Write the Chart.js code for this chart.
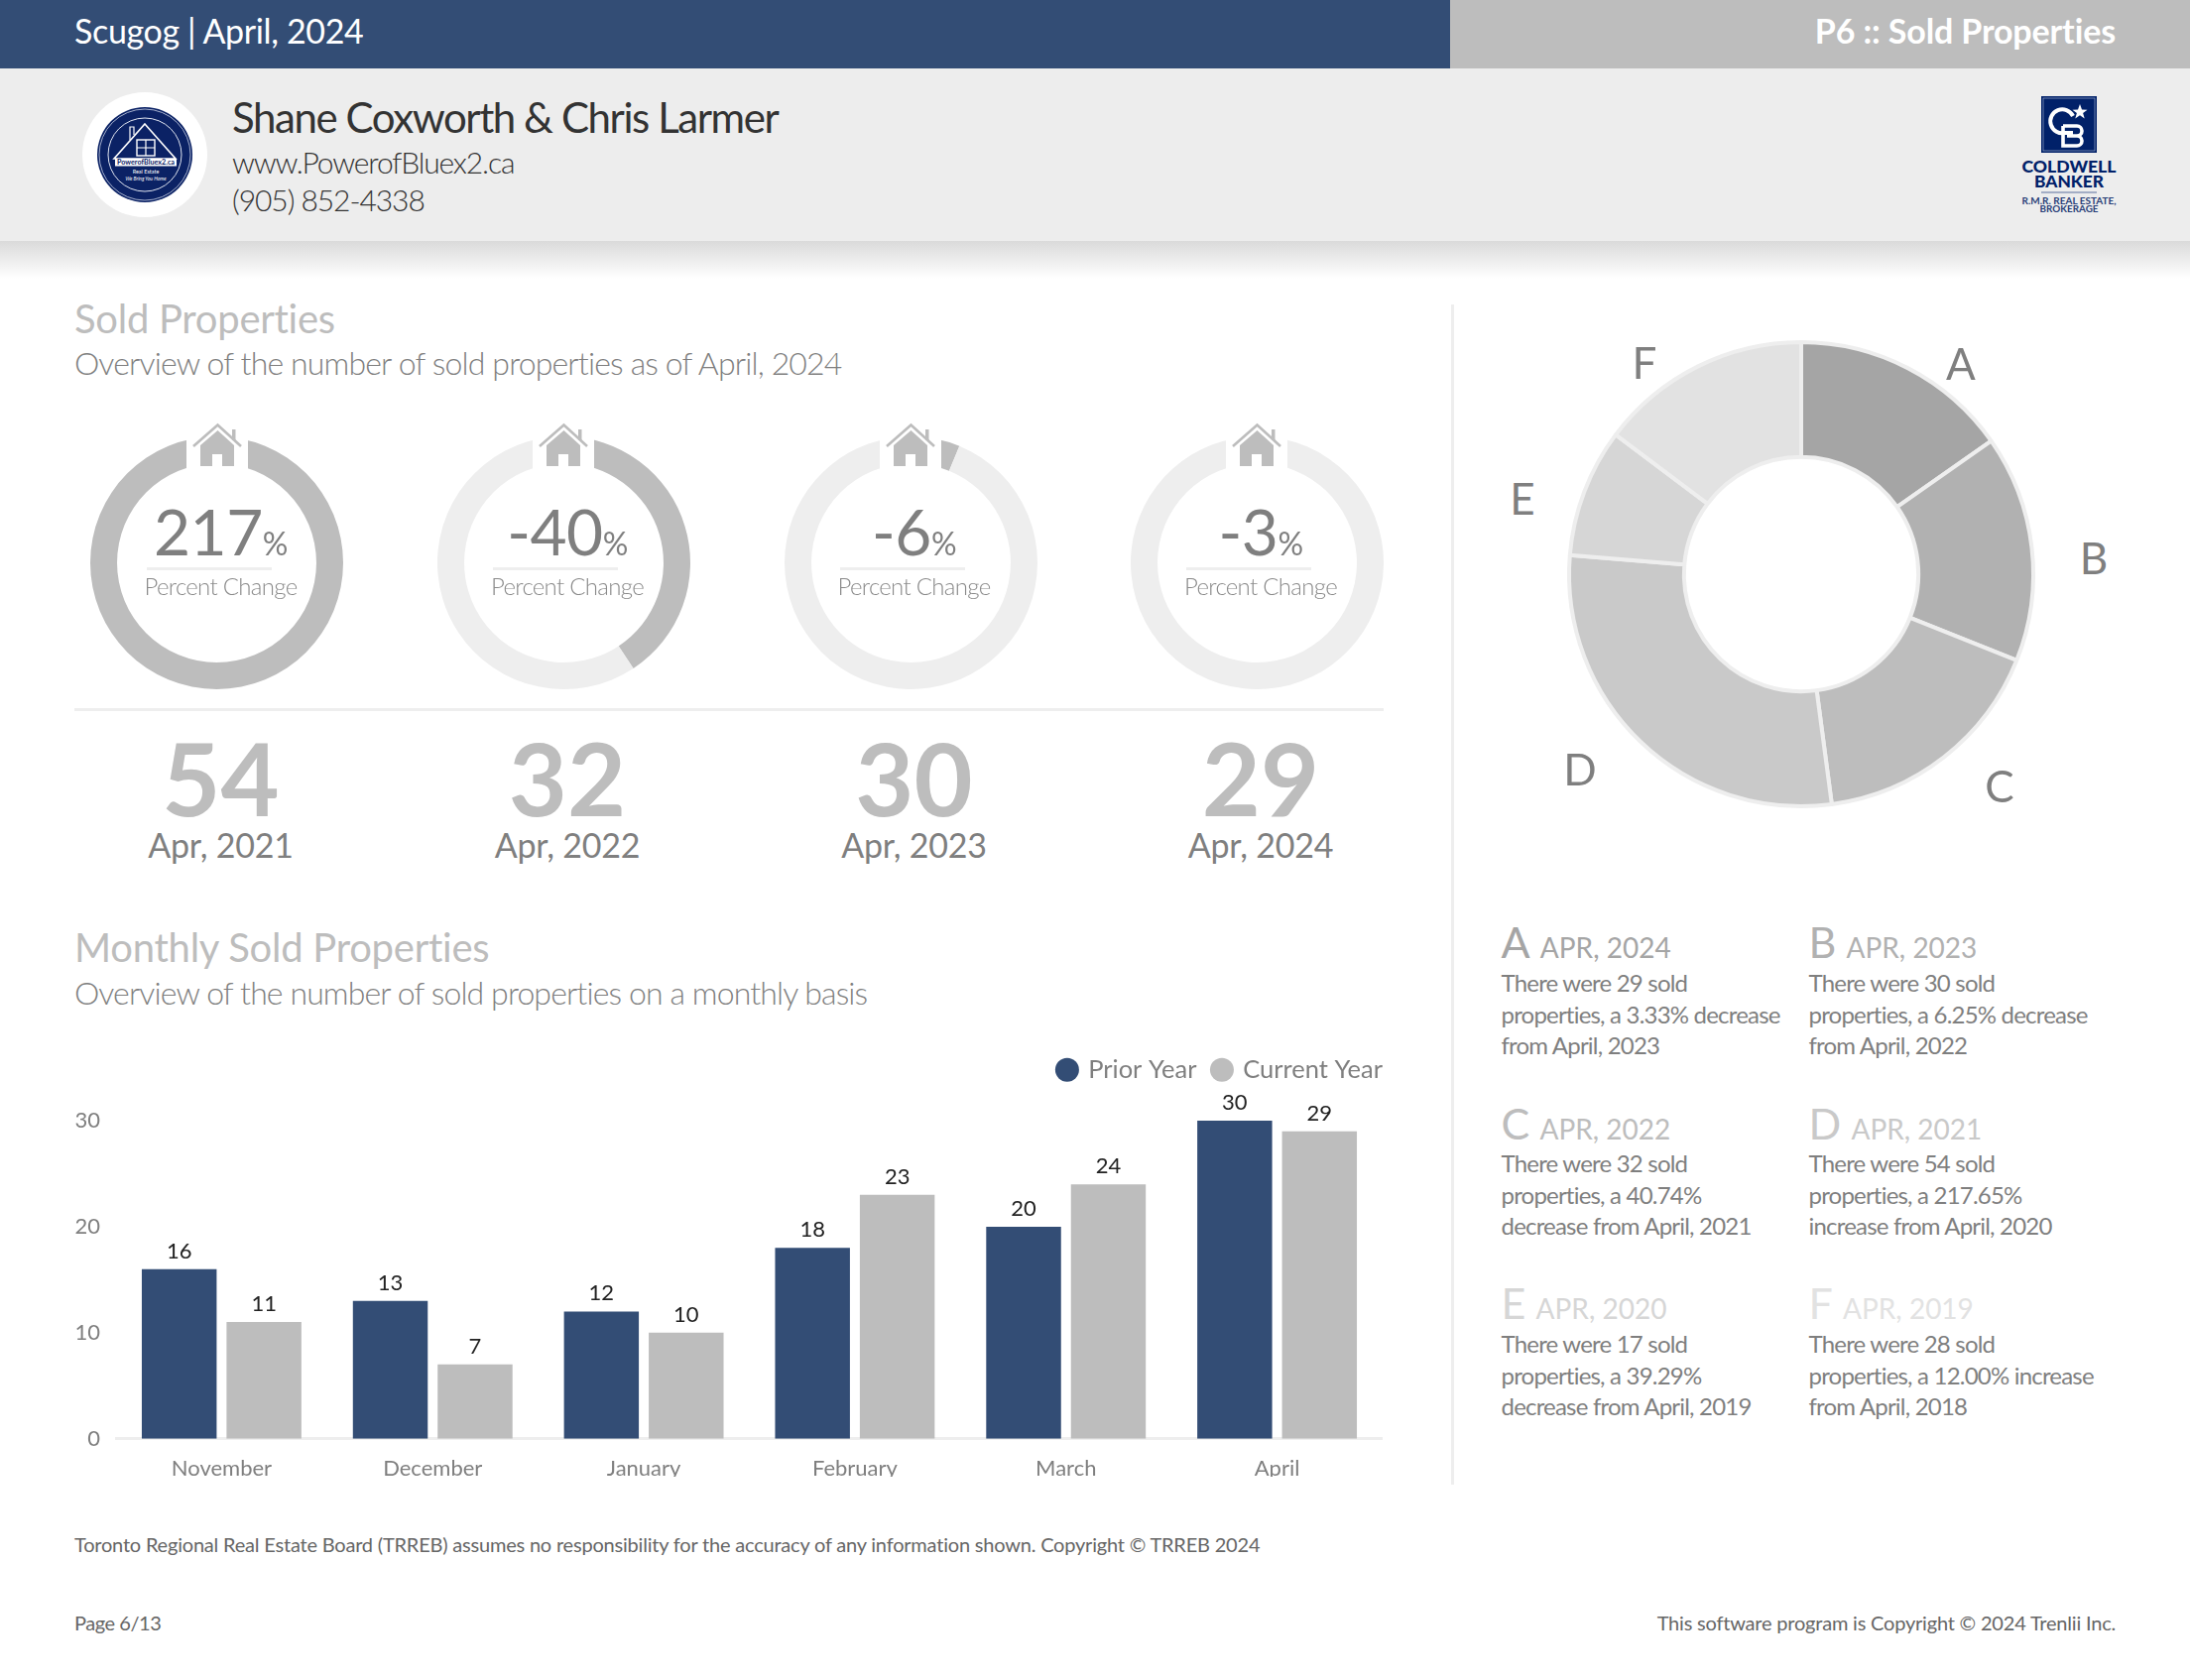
<!DOCTYPE html>
<html>
<head>
<meta charset="utf-8">
<title>Scugog | April, 2024</title>
<script src="https://cdn.jsdelivr.net/npm/chart.js@4"></script>
<style>
  html, body { margin: 0; padding: 0; background: #fff; }
  #page { position: relative; width: 2208px; height: 1694px; overflow: hidden; font-family: Lato, sans-serif; color: #7f7f7f; }
  #page > * { position: absolute; }
  canvas { display: block; }
  .t { white-space: nowrap; line-height: 1; }
  .light { font-weight: 300; }
  .c { transform: translateX(-50%); text-align: center; }
  .r { text-align: right; }
</style>
</head>
<body>
<div id="page">
  <div style="left:0;top:0;width:1462px;height:69px;background:#334d75"></div>
  <div style="left:1462px;top:0;width:746px;height:69px;background:#bdbdbd"></div>
  <div style="left:0;top:69px;width:2208px;height:174px;background:#ededed"></div>
  <div style="left:0;top:243px;width:2208px;height:38px;background:linear-gradient(#dadada,#ffffff)"></div>

  <div class="t" style="left:75px;top:14px;font-size:34px;color:#fff;letter-spacing:-.35px">Scugog | April, 2024</div>
  <div class="t r" style="right:75px;top:14px;font-size:34px;font-weight:700;color:#fff;letter-spacing:-.13px">P6 :: Sold Properties</div>

  <svg style="left:83px;top:93px" width="126" height="126" viewBox="0 0 126 126">
    <circle cx="63" cy="63" r="63" fill="#fff"/>
    <circle cx="63" cy="63" r="48" fill="#0b2265"/>
    <circle cx="63" cy="63" r="46" fill="none" stroke="#c9d1e4" stroke-width=".8"/>
    <circle cx="63" cy="63" r="37" fill="none" stroke="#dfe4f0" stroke-width="1"/>
    <path d="M63 32 L94 67 H32 Z" fill="none" stroke="#fff" stroke-width="1.6"/>
    <path d="M48 48 V35 H52 V43" fill="none" stroke="#fff" stroke-width="1.2"/>
    <rect x="55" y="48" width="18" height="16" fill="none" stroke="#fff" stroke-width="1.4"/>
    <path d="M64 48V64M55 56H73" stroke="#fff" stroke-width="1.2"/>
    <rect x="33" y="67" width="62" height="7.5" fill="#fff"/>
    <text x="64" y="73" text-anchor="middle" font-family="Lato" font-size="7" font-weight="700" textLength="58" lengthAdjust="spacingAndGlyphs" fill="#0b2265">PowerofBluex2.ca</text>
    <text x="64" y="82" text-anchor="middle" font-family="Lato" font-size="5.5" fill="#fff">Real Estate</text>
    <text x="64" y="89" text-anchor="middle" font-family="Lato" font-size="5" font-style="italic" fill="#fff">We Bring You Home</text>
  </svg>

  <div class="t" style="left:234px;top:97px;font-size:42px;color:#333;letter-spacing:-1.43px">Shane Coxworth &amp; Chris Larmer</div>
  <div class="t light" style="left:234px;top:148px;font-size:30px;color:#333;letter-spacing:-1.15px">www.PowerofBluex2.ca</div>
  <div class="t light" style="left:234px;top:186px;font-size:30px;color:#333;letter-spacing:-1.07px">(905) 852-4338</div>

  <svg style="left:2030px;top:90px" width="112" height="130" viewBox="0 0 112 130">
    <rect x="28" y="7" width="56" height="57" fill="#012169"/>
    <rect x="30" y="9" width="52" height="53" fill="none" stroke="#9aa8c8" stroke-width=".7"/>
    <path d="M60 27 A12 12 0 1 0 52 44 L60 44" fill="none" stroke="#fff" stroke-width="4"/>
    <path d="M50 37 H64 A5 5 0 0 1 64 47 H54 M64 47 A5 5 0 0 1 64 57 H50 V37" fill="none" stroke="#fff" stroke-width="3.6"/>
    <path d="M67 15 l2 5.5 5.5 .2 -4.4 3.4 1.6 5.4 -4.7 -3.2 -4.7 3.2 1.6 -5.4 -4.4 -3.4 5.5 -.2z" fill="#fff"/>
    <text x="56" y="84" text-anchor="middle" font-family="Lato" font-weight="900" font-size="16.5" textLength="95" lengthAdjust="spacingAndGlyphs" fill="#012169">COLDWELL</text>
    <text x="56" y="99" text-anchor="middle" font-family="Lato" font-weight="900" font-size="16.5" textLength="70" lengthAdjust="spacingAndGlyphs" fill="#012169">BANKER</text>
    <rect x="28" y="103.5" width="56" height="1" fill="#5a6f9e"/>
    <text x="56" y="116" text-anchor="middle" font-family="Lato" font-weight="700" font-size="8.6" textLength="95" lengthAdjust="spacingAndGlyphs" fill="#2a3f78">R.M.R. REAL ESTATE,</text>
    <text x="56" y="124" text-anchor="middle" font-family="Lato" font-weight="700" font-size="8.6" textLength="59" lengthAdjust="spacingAndGlyphs" fill="#2a3f78">BROKERAGE</text>
  </svg>

  <div class="t" style="left:75px;top:301px;font-size:40px;color:#bdbdbd;letter-spacing:-.27px">Sold Properties</div>
  <div class="t light" style="left:75px;top:350px;font-size:32px;letter-spacing:-.85px">Overview of the number of sold properties as of April, 2024</div>

  <div style="left:75px;top:714px;width:1320px;height:3px;background:#eee"></div>

  <div class="t" style="left:75px;top:935px;font-size:40px;color:#bdbdbd;letter-spacing:-.25px">Monthly Sold Properties</div>
  <div class="t light" style="left:75px;top:985px;font-size:32px;letter-spacing:-.89px">Overview of the number of sold properties on a monthly basis</div>

  <canvas id="barChart" width="1324" height="440" style="left:70px;top:1049px"></canvas>

  <div style="left:1463px;top:307px;width:3px;height:1190px;background:#eee"></div>
  <canvas id="shareChart" width="500" height="500" style="left:1566px;top:329px"></canvas>

  <div class="t" style="left:75px;top:1547px;font-size:20px;color:#666;letter-spacing:-.2px">Toronto Regional Real Estate Board (TRREB) assumes no responsibility for the accuracy of any information shown. Copyright © TRREB 2024</div>
  <div class="t" style="left:75px;top:1626px;font-size:20px;color:#666;letter-spacing:-.45px">Page 6/13</div>
  <div class="t r" style="right:75px;top:1626px;font-size:20px;color:#666;letter-spacing:-.2px">This software program is Copyright © 2024 Trenlii Inc.</div>
</div>

<script>
// ── Data ───────────────────────────────────────────────────────────────────
const MONTHS = ['November', 'December', 'January', 'February', 'March', 'April'];
const PRIOR_YEAR = [16, 13, 12, 18, 20, 30];
const CURRENT_YEAR = [11, 7, 10, 23, 24, 29];
const Y_TICKS = [0, 10, 20, 30];

const PERCENT_CHANGE = [217, -40, -6, -3];
const PERCENT_FILL = [100, 40.74, 6.25, 3.33];
const KPI_VALUES = [54, 32, 30, 29];
const KPI_DATES = ['Apr, 2021', 'Apr, 2022', 'Apr, 2023', 'Apr, 2024'];

const SHARE_LETTERS = ['A', 'B', 'C', 'D', 'E', 'F'];
const SHARE_DATES = ['APR, 2024', 'APR, 2023', 'APR, 2022', 'APR, 2021', 'APR, 2020', 'APR, 2019'];
const SHARE_VALUES = [29, 30, 32, 54, 17, 28];
const SHARE_COLORS = ['#a5a5a5', '#b1b1b1', '#bdbdbd', '#c9c9c9', '#d6d6d6', '#e2e2e2'];
const SHARE_TEXT = [
  ['There were 29 sold', 'properties, a 3.33% decrease', 'from April, 2023'],
  ['There were 30 sold', 'properties, a 6.25% decrease', 'from April, 2022'],
  ['There were 32 sold', 'properties, a 40.74%', 'decrease from April, 2021'],
  ['There were 54 sold', 'properties, a 217.65%', 'increase from April, 2020'],
  ['There were 17 sold', 'properties, a 39.29%', 'decrease from April, 2019'],
  ['There were 28 sold', 'properties, a 12.00% increase', 'from April, 2018'],
];

// ── Layout ─────────────────────────────────────────────────────────────────
const BLUE = '#334d75';
const GREY = '#bdbdbd';
const TRACK = '#eeeeee';
const page = document.getElementById('page');

function addText(text, style, className = 't') {
  const el = Object.assign(document.createElement('div'), { className, textContent: text });
  el.style.cssText = style;
  page.appendChild(el);
  return el;
}

const KPI_DONUT_X = [218.5, 568, 918, 1267];
const KPI_TEXT_X = [222.5, 572, 921.5, 1271];
const KPI_RADIUS = 127.5;
const KPI_CY = 567.5;

function house(cx) {
  const svg = document.createElementNS('http://www.w3.org/2000/svg', 'svg');
  svg.setAttribute('width', 62);
  svg.setAttribute('height', 50);
  svg.setAttribute('viewBox', '0 0 62 50');
  svg.style.cssText = `left:${cx - 31}px;top:425px;background:#fff`;
  svg.innerHTML = `
    <path d="M7 25 L31.5 3.5 L55 25" fill="none" stroke="${GREY}" stroke-width="2.6"/>
    <rect x="46" y="8" width="3.5" height="11" fill="${GREY}"/>
    <path d="M14 45 V24 L31.5 9 L48 24 V45 H36 V33 H26 V45 Z" fill="${GREY}"/>`;
  page.appendChild(svg);
}

function kpiDonut(i) {
  const canvas = document.createElement('canvas');
  canvas.width = canvas.height = KPI_RADIUS * 2;
  canvas.style.cssText = `left:${KPI_DONUT_X[i] - KPI_RADIUS}px;top:${KPI_CY - KPI_RADIUS}px`;
  page.appendChild(canvas);
  new Chart(canvas, {
    type: 'doughnut',
    data: { datasets: [{ data: [PERCENT_FILL[i], 100 - PERCENT_FILL[i]], backgroundColor: [GREY, TRACK], borderWidth: 0 }] },
    options: {
      responsive: false,
      animation: false,
      cutout: '78.8%',
      plugins: { legend: { display: false }, tooltip: { enabled: false } },
    },
  });
  house(KPI_DONUT_X[i]);

  const x = KPI_TEXT_X[i];
  const head = addText('', `left:${x}px;top:504px;font-size:64px;letter-spacing:-.5px`, 't c');
  head.append(String(PERCENT_CHANGE[i]));
  const pct = document.createElement('span');
  pct.textContent = '%';
  pct.style.fontSize = '32px';
  head.appendChild(pct);
  addText('', `left:${x - 75}px;top:572px;width:126px;height:3px;background:${TRACK}`);
  addText('Percent Change', `left:${x}px;top:579px;font-size:24px;color:#8a8a8a;letter-spacing:-.7px`, 't light c');
  addText(String(KPI_VALUES[i]), `left:${x}px;top:733px;font-size:102px;font-weight:700;color:${GREY}`, 't c');
  addText(KPI_DATES[i], `left:${x}px;top:835px;font-size:34px;letter-spacing:-.2px`, 't c');
}
PERCENT_CHANGE.forEach((_, i) => kpiDonut(i));

// right column notes
const NOTE_X = [1513.5, 1823.5];
const NOTE_BASE = [965, 1148, 1329];
const NOTE_BODY = [979, 1161, 1343];
SHARE_LETTERS.forEach((letter, i) => {
  const x = NOTE_X[i % 2];
  const row = Math.floor(i / 2);
  const head = addText('', `left:${x}px;top:${NOTE_BASE[row] - 37}px;font-size:43px;color:${SHARE_COLORS[i]}`);
  head.append(letter);
  const date = document.createElement('span');
  date.textContent = ' ' + SHARE_DATES[i];
  date.style.cssText = 'font-size:28px;margin-left:4px';
  head.appendChild(date);
  SHARE_TEXT[i].forEach((line, j) => {
    addText(line, `left:${x}px;top:${NOTE_BODY[row] + j * 31.5}px;font-size:24px;letter-spacing:-.8px`);
  });
});

// letters around the share donut
const SHARE_LABEL_POS = [[1977, 366], [2111, 562], [2016, 792], [1593, 775], [1535, 502], [1658, 365]];
SHARE_LETTERS.forEach((letter, i) => {
  const [x, y] = SHARE_LABEL_POS[i];
  addText(letter, `left:${x}px;top:${y - 22}px;font-size:44px`, 't c');
});

// ── Charts ─────────────────────────────────────────────────────────────────
new Chart(document.getElementById('shareChart'), {
  type: 'doughnut',
  data: {
    labels: SHARE_LETTERS,
    datasets: [{ data: SHARE_VALUES, backgroundColor: SHARE_COLORS, borderColor: TRACK, borderWidth: 4 }],
  },
  options: {
    responsive: false,
    animation: false,
    radius: 234,
    cutout: '50.5%',
    plugins: { legend: { display: false }, tooltip: { enabled: false } },
  },
});

// the legend has no option for its height or for dropping the trailing padding
const legendFit = {
  id: 'legendFit',
  beforeInit(chart) {
    const fit = chart.legend.fit;
    chart.legend.fit = function () {
      fit.call(this);
      this.height = 81;
    };
  },
  afterLayout(chart) {
    chart.legend.right += chart.legend.options.labels.padding;
  },
};

const barLabels = {
  id: 'barLabels',
  afterDatasetsDraw(chart) {
    const { ctx } = chart;
    ctx.save();
    ctx.font = '22px Lato';
    ctx.fillStyle = '#222';
    ctx.textAlign = 'center';
    ctx.textBaseline = 'alphabetic';
    chart.data.datasets.forEach((ds, d) => {
      chart.getDatasetMeta(d).data.forEach((bar, i) => {
        ctx.fillText(ds.data[i], bar.x, bar.y - 11);
      });
    });
    ctx.restore();
  },
};

new Chart(document.getElementById('barChart'), {
  type: 'bar',
  data: {
    labels: MONTHS,
    datasets: [
      { label: 'Prior Year', data: PRIOR_YEAR, backgroundColor: BLUE, categoryPercentage: 0.803, barPercentage: 0.883 },
      { label: 'Current Year', data: CURRENT_YEAR, backgroundColor: GREY, categoryPercentage: 0.803, barPercentage: 0.883 },
    ],
  },
  plugins: [legendFit, barLabels],
  options: {
    responsive: false,
    animation: false,
    plugins: {
      tooltip: { enabled: false },
      legend: {
        position: 'top',
        align: 'end',
        labels: {
          usePointStyle: true,
          pointStyle: 'circle',
          boxWidth: 17,
          boxHeight: 17,
          padding: 17,
          color: '#7f7f7f',
          font: { family: 'Lato', size: 25.5 },
        },
      },
    },
    scales: {
      x: {
        grid: { display: false },
        border: { display: true, color: TRACK, width: 3 },
        ticks: { color: '#7f7f7f', font: { family: 'Lato', size: 22 }, padding: 9, maxRotation: 0 },
        afterFit(scale) { scale.height = 38.3; },
      },
      y: {
        min: 0,
        max: 30,
        grid: { display: false, drawTicks: false },
        border: { display: false },
        afterBuildTicks(scale) { scale.ticks = Y_TICKS.map(value => ({ value })); },
        ticks: { color: '#7f7f7f', font: { family: 'Lato', size: 22 }, padding: 16 },
        afterFit(scale) { scale.width = 47; },
      },
    },
  },
});
</script>
</body>
</html>
